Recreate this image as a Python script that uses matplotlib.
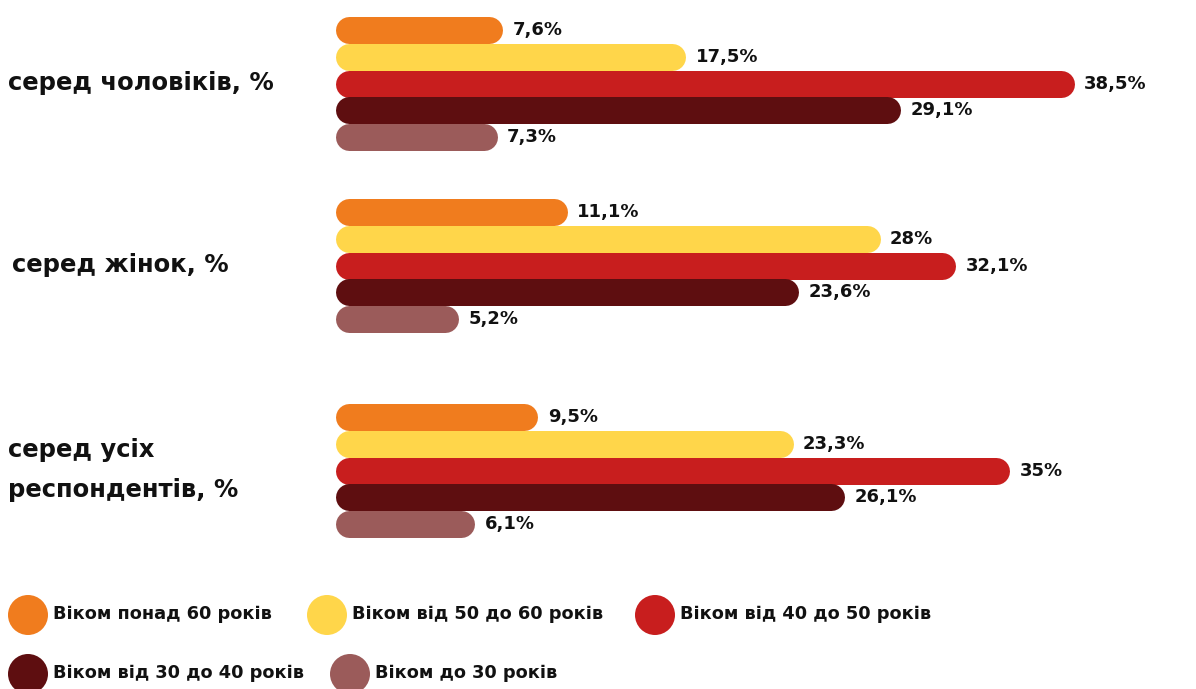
import matplotlib.pyplot as plt
from matplotlib.patches import Circle

W, H = 1196, 689

groups = ["серед чоловіків, %", "серед жінок, %", "серед усіх\nреспондентів, %"]
ages = ["Віком понад 60 років", "Віком від 50 до 60 років", "Віком від 40 до 50 років",
        "Віком від 30 до 40 років", "Віком до 30 років"]
colors = ["#F07C1E", "#FFD64A", "#C81E1E", "#5E0E10", "#9B5B5A"]

men = [7.6, 17.5, 38.5, 29.1, 7.3]
women = [11.1, 28, 32.1, 23.6, 5.2]
everyone = [9.5, 23.3, 35, 26.1, 6.1]

# layout in pixels
group_top = [30, 212, 417]
step = 26.8
bar_h = 27
bar_x0 = 335
px_per_pct = 18.5
group_label_xy = [(8, 83), (12, 265), (8, 470)]
legend_xy = [(28, 615), (327, 615), (655, 615), (28, 674), (350, 674)]

PT = 72 / 100  # points per pixel at dpi 100


def fmt(v):
    return f"{v:g}".replace(".", ",") + "%"


fig = plt.figure(figsize=(W / 100, H / 100), dpi=100)

# background layer for labels and legend, in pixel units
lay = fig.add_axes([0, 0, 1, 1])
lay.set_xlim(0, W)
lay.set_ylim(H, 0)
lay.axis("off")

zero = bar_x0 + bar_h / 2
ax = fig.add_axes([zero / W, 0, 1 - zero / W, 1])
ax.set_xlim(0, (W - zero) / px_per_pct)
ax.set_ylim(H, 0)
ax.axis("off")

for g, vals in enumerate([men, women, everyone]):
    for i, v in enumerate(vals):
        y = group_top[g] + i * step
        ax.plot([0, v], [y, y], color=colors[i], lw=bar_h * PT,
                solid_capstyle="round", clip_on=False)
        ax.annotate(fmt(v), (v, y), xytext=((bar_h / 2 + 10) * PT, 0),
                    textcoords="offset points", ha="left", va="center",
                    fontsize=13, fontweight="bold", family="DejaVu Sans",
                    color="#111111")

for (x, y), name in zip(group_label_xy, groups):
    lay.text(x, y, name, ha="left", va="center", fontsize=17.5,
             fontweight="bold", family="DejaVu Sans", linespacing=1.85,
             color="#111111")

for (cx, cy), name, c in zip(legend_xy, ages, colors):
    lay.add_patch(Circle((cx, cy), 20, color=c, lw=0))
    lay.text(cx + 25, cy - 1, name, ha="left", va="center", fontsize=12.8,
             fontweight="bold", family="DejaVu Sans", color="#111111")

fig.savefig("out.png", dpi=100)
